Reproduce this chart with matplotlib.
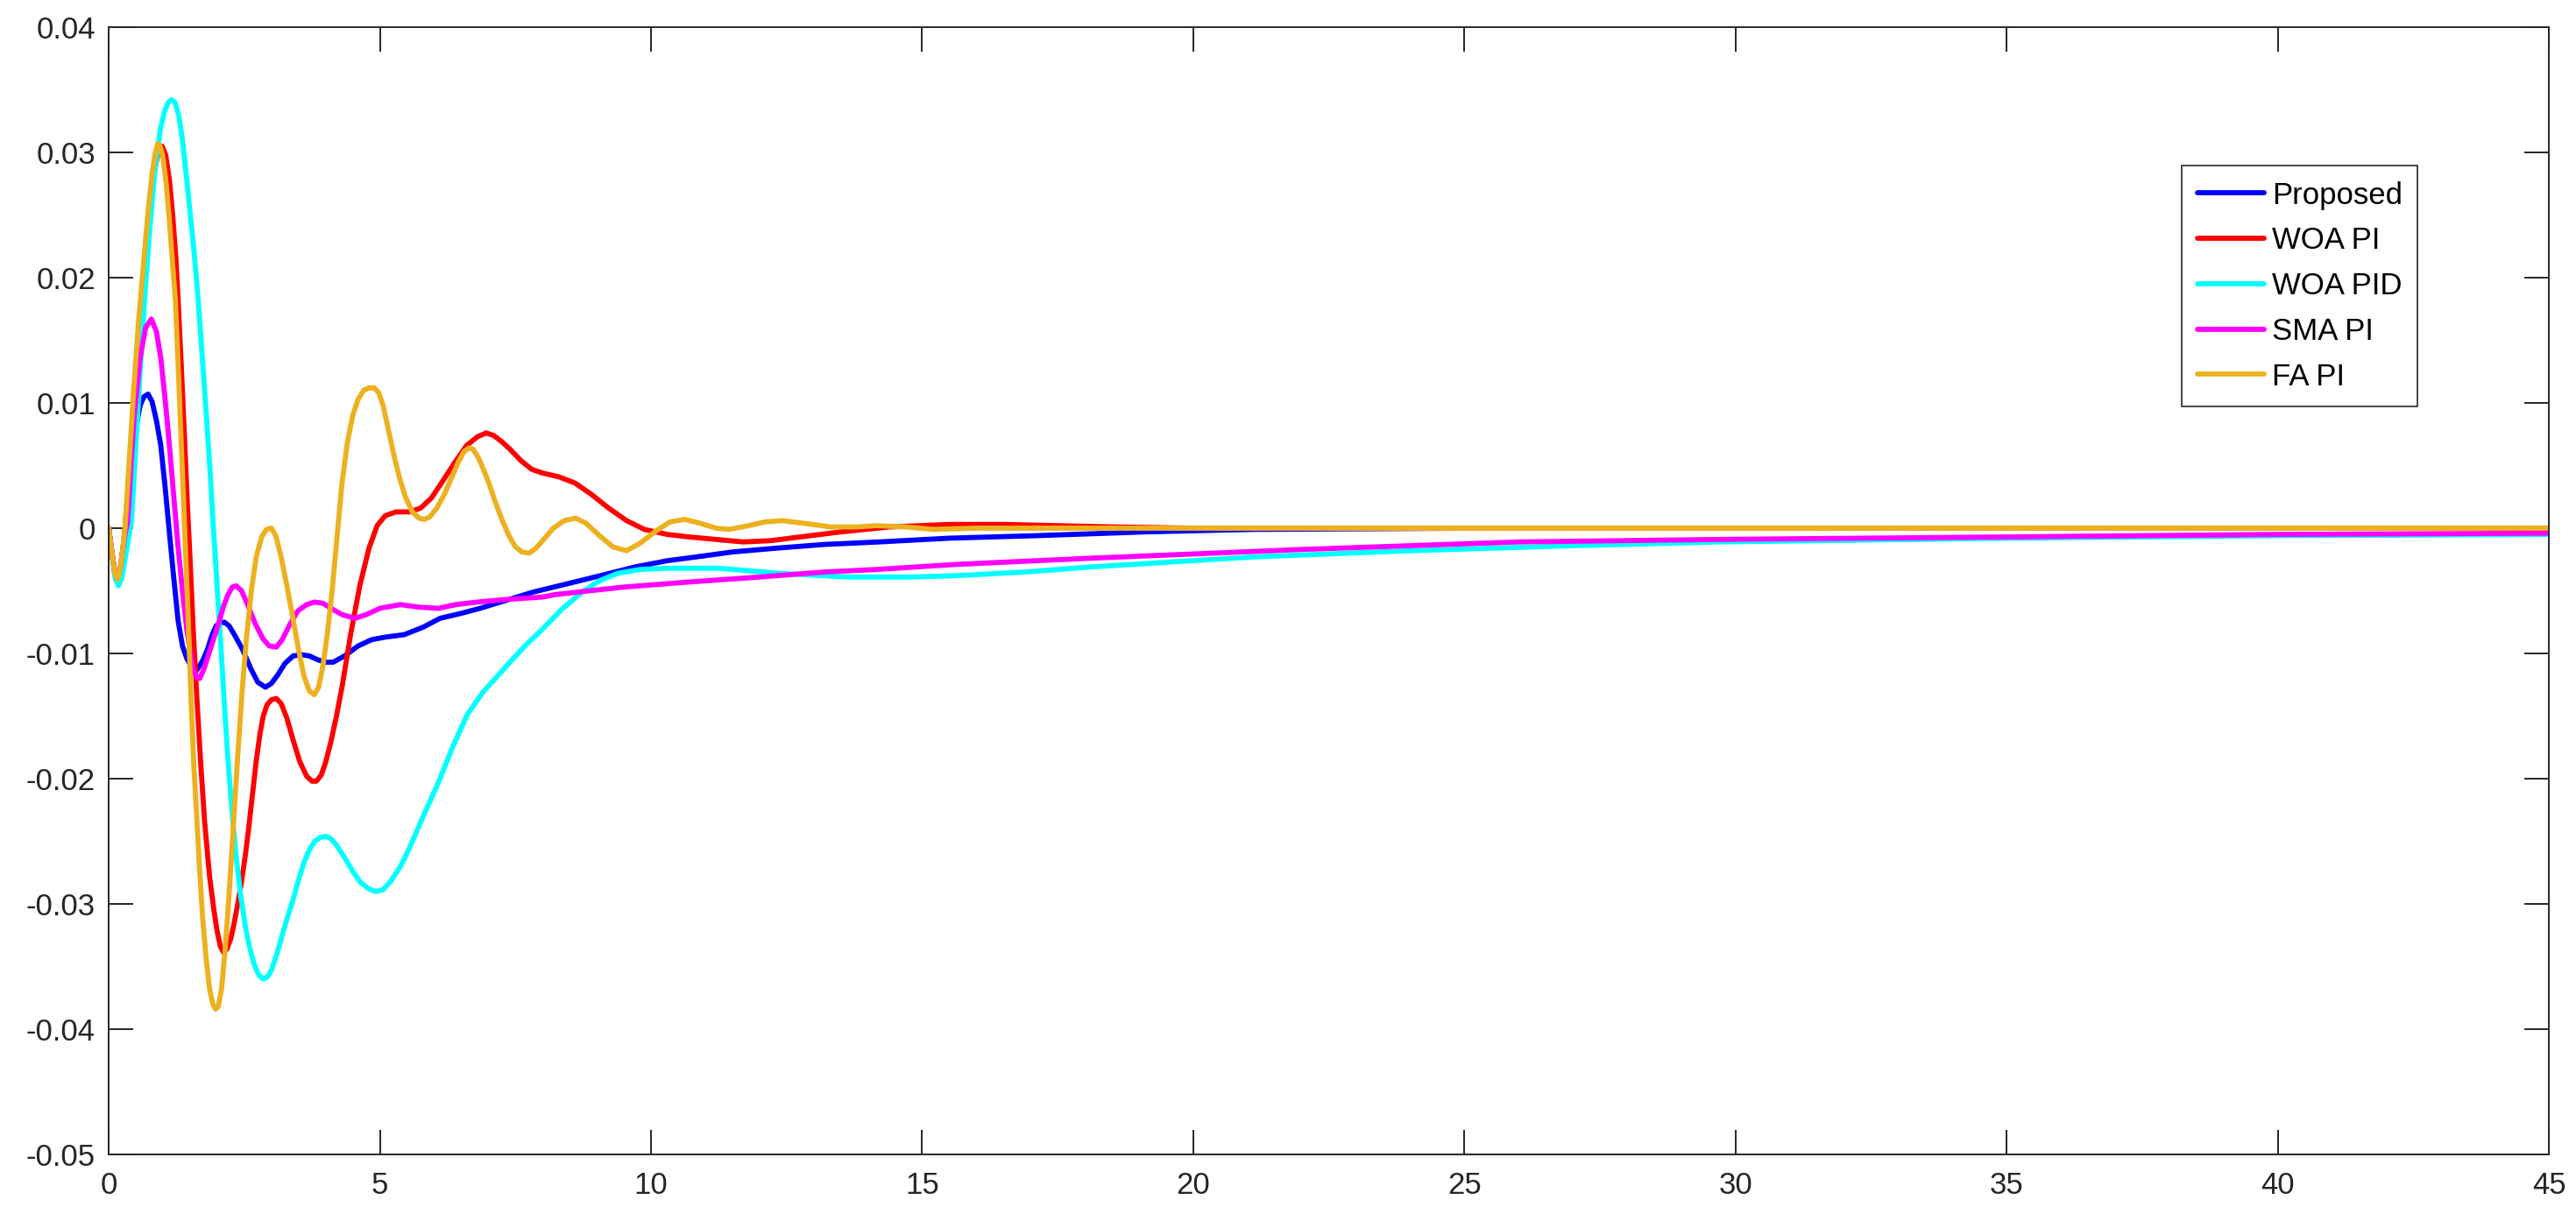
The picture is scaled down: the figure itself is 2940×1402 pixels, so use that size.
import numpy as np
import matplotlib
matplotlib.use('Agg')
import matplotlib.pyplot as plt

# values
t_proposed = [0, 0.06, 0.11, 0.16, 0.21, 0.26, 0.3, 0.35, 0.42, 0.5, 0.58, 0.65, 0.727, 0.8, 0.88, 0.96, 1.04,
              1.12, 1.2, 1.28, 1.36, 1.44, 1.53, 1.63, 1.73, 1.82, 1.9, 1.98, 2.05, 2.13, 2.22, 2.33, 2.47,
              2.63, 2.75, 2.89, 3.0, 3.12, 3.25, 3.4, 3.55, 3.7, 3.85, 4.0, 4.14, 4.35, 4.6, 4.85, 5.1, 5.45,
              5.8, 6.11, 6.5, 6.85, 7.3, 7.83, 8.4, 9.06, 9.7, 10.3, 11.0, 11.5, 12.3, 13.2, 14.2, 15.5, 17.1,
              19.1, 21.1, 25, 30, 35, 40, 45]
proposed = [0, -0.0020, -0.0035, -0.0041, -0.0034, -0.0018, -0.0005, 0.0005, 0.0045, 0.0080, 0.0098, 0.0105,
            0.0107, 0.0101, 0.0086, 0.0066, 0.0033, -0.0004, -0.0040, -0.0074, -0.0094, -0.0104, -0.0111,
            -0.0113, -0.0106, -0.0097, -0.0086, -0.0078, -0.0076, -0.0075, -0.0078, -0.0086, -0.0097, -0.0113,
            -0.0123, -0.0127, -0.0124, -0.0117, -0.0108, -0.0102, -0.0101, -0.0102, -0.0105, -0.0107, -0.0107,
            -0.0102, -0.0094, -0.0089, -0.0087, -0.0085, -0.0079, -0.0072, -0.0068, -0.0064, -0.0058, -0.0051,
            -0.0045, -0.0038, -0.0031, -0.0026, -0.0022, -0.0019, -0.0016, -0.0013, -0.0011, -0.0008, -0.0006,
            -0.0003, -0.0001, 0.0, 0.0, 0.0, 0.0, 0.0]

t_woa_pi = [0, 0.06, 0.11, 0.16, 0.21, 0.26, 0.3, 0.4, 0.48, 0.57, 0.67, 0.76, 0.85, 0.92, 0.985, 1.05, 1.12,
            1.18, 1.24, 1.28, 1.34, 1.4, 1.45, 1.5, 1.56, 1.63, 1.7, 1.77, 1.86, 1.94, 2.0, 2.06, 2.12, 2.18,
            2.25, 2.31, 2.38, 2.45, 2.52, 2.58, 2.65, 2.72, 2.79, 2.85, 2.92, 3.0, 3.09, 3.18, 3.28, 3.4, 3.52,
            3.65, 3.75, 3.83, 3.92, 4.0, 4.1, 4.2, 4.31, 4.46, 4.63, 4.8, 4.95, 5.1, 5.3, 5.55, 5.75, 5.95,
            6.15, 6.36, 6.6, 6.8, 6.96, 7.1, 7.25, 7.4, 7.6, 7.8, 8.0, 8.3, 8.6, 8.9, 9.22, 9.55, 9.88, 10.3,
            10.7, 11.2, 11.7, 12.2, 12.75, 13.5, 14.4, 15.5, 16.5, 17.5, 18.5, 20, 25, 30, 35, 40, 45]
woa_pi = [0, -0.0020, -0.0036, -0.0042, -0.0035, -0.0018, 0.0, 0.0055, 0.0105, 0.0160, 0.0210, 0.0255, 0.0287,
          0.0301, 0.0305, 0.0298, 0.0278, 0.0250, 0.0215, 0.0182, 0.0128, 0.0070, 0.0020, -0.0025, -0.0082,
          -0.0139, -0.0190, -0.0235, -0.0278, -0.0305, -0.0322, -0.0334, -0.0339, -0.0336, -0.0328, -0.0316,
          -0.0300, -0.0282, -0.0261, -0.0240, -0.0213, -0.0186, -0.0164, -0.0150, -0.0141, -0.0137, -0.0136,
          -0.0140, -0.0151, -0.0169, -0.0186, -0.0198, -0.0202, -0.0202, -0.0197, -0.0187, -0.0170, -0.0150,
          -0.0125, -0.0085, -0.0046, -0.0016, 0.0002, 0.0010, 0.0013, 0.0013, 0.0016, 0.0024, 0.0037, 0.0051,
          0.0066, 0.0073, 0.0076, 0.0074, 0.0069, 0.0063, 0.0054, 0.0047, 0.0044, 0.0041, 0.0036, 0.0027,
          0.0016, 0.0006, -0.0001, -0.0005, -0.0007, -0.0009, -0.0011, -0.0010, -0.0007, -0.0003, 0.0001,
          0.0003, 0.0003, 0.0002, 0.0001, 0.0, 0.0, 0.0, 0.0, 0.0, 0.0]

t_woa_pid = [0, 0.06, 0.12, 0.18, 0.24, 0.3, 0.36, 0.42, 0.5, 0.58, 0.66, 0.75, 0.85, 0.95, 1.03, 1.1, 1.16,
             1.22, 1.29, 1.36, 1.44, 1.5, 1.58, 1.65, 1.72, 1.8, 1.87, 1.93, 2.0, 2.07, 2.13, 2.2, 2.27, 2.35,
             2.43, 2.52, 2.6, 2.68, 2.77, 2.85, 2.93, 3.0, 3.1, 3.2, 3.3, 3.39, 3.5, 3.6, 3.71, 3.8, 3.9, 4.0,
             4.1, 4.2, 4.35, 4.5, 4.65, 4.8, 4.92, 5.05, 5.2, 5.38, 5.54, 5.8, 6.08, 6.35, 6.61, 6.9, 7.15,
             7.42, 7.7, 7.99, 8.35, 8.73, 9.05, 9.39, 9.8, 10.3, 11.25, 12.35, 13.6, 14.8, 15.6, 16.9, 18.1,
             21.1, 24, 27, 29.7, 35, 40, 45]
woa_pid = [0, -0.0022, -0.0040, -0.0046, -0.0040, -0.0025, -0.0010, 0.0006, 0.0065, 0.0125, 0.0182, 0.0235,
           0.0285, 0.0318, 0.0333, 0.0340, 0.0342, 0.0340, 0.0330, 0.0310, 0.0278, 0.0252, 0.0218, 0.0182,
           0.0140, 0.0090, 0.0045, 0.0, -0.0047, -0.0095, -0.0139, -0.0185, -0.0225, -0.0262, -0.0292,
           -0.0318, -0.0335, -0.0348, -0.0357, -0.0360, -0.0358, -0.0353, -0.0340, -0.0325, -0.0310, -0.0298,
           -0.0281, -0.0267, -0.0256, -0.0250, -0.0247, -0.0246, -0.0248, -0.0253, -0.0263, -0.0274, -0.0283,
           -0.0288, -0.0290, -0.0289, -0.0282, -0.0270, -0.0256, -0.0230, -0.0203, -0.0174, -0.0149, -0.0131,
           -0.0119, -0.0106, -0.0093, -0.0081, -0.0065, -0.0051, -0.0042, -0.0036, -0.0033, -0.0032, -0.0032,
           -0.0036, -0.0039, -0.0039, -0.0038, -0.0035, -0.0031, -0.0023, -0.0018, -0.0014, -0.0011, -0.0008,
           -0.0006, -0.0005]

t_sma_pi = [0, 0.06, 0.11, 0.16, 0.21, 0.26, 0.3, 0.35, 0.41, 0.47, 0.58, 0.68, 0.786, 0.88, 0.96, 1.04, 1.12,
            1.2, 1.28, 1.36, 1.44, 1.55, 1.62, 1.68, 1.76, 1.87, 1.96, 2.04, 2.12, 2.2, 2.28, 2.35, 2.45, 2.57,
            2.7, 2.84, 2.96, 3.09, 3.2, 3.35, 3.49, 3.65, 3.8, 3.95, 4.1, 4.3, 4.54, 4.75, 5.0, 5.38, 5.7, 6.08,
            6.4, 6.8, 7.3, 8.0, 8.24, 9.5, 10.7, 12.0, 13.2, 14.15, 15.6, 18.1, 22.0, 26, 29.7, 35, 40, 45]
sma_pi = [0, -0.0020, -0.0034, -0.0040, -0.0033, -0.0017, -0.0005, 0.0005, 0.0050, 0.0089, 0.0136, 0.0160,
          0.0167, 0.0157, 0.0136, 0.0103, 0.0066, 0.0025, -0.0015, -0.0050, -0.0081, -0.0111, -0.0119, -0.0120,
          -0.0112, -0.0097, -0.0085, -0.0074, -0.0062, -0.0053, -0.0047, -0.0046, -0.0050, -0.0062, -0.0076,
          -0.0088, -0.0094, -0.0095, -0.0089, -0.0076, -0.0066, -0.0061, -0.0059, -0.0060, -0.0064, -0.0069,
          -0.0072, -0.0069, -0.0064, -0.0061, -0.0063, -0.0064, -0.0061, -0.0059, -0.0057, -0.0055, -0.0053,
          -0.0047, -0.0043, -0.0039, -0.0035, -0.0033, -0.0029, -0.0024, -0.0017, -0.0011, -0.0009, -0.0007,
          -0.0005, -0.0004]

t_fa_pi = [0, 0.06, 0.11, 0.16, 0.21, 0.26, 0.3, 0.38, 0.46, 0.55, 0.65, 0.73, 0.8, 0.86, 0.905, 0.95, 1.0,
           1.06, 1.12, 1.18, 1.23, 1.29, 1.34, 1.4, 1.46, 1.52, 1.57, 1.61, 1.67, 1.73, 1.8, 1.86, 1.92, 1.97,
           2.02, 2.08, 2.14, 2.2, 2.26, 2.32, 2.39, 2.46, 2.54, 2.63, 2.72, 2.82, 2.91, 3.0, 3.08, 3.18, 3.29,
           3.39, 3.5, 3.6, 3.7, 3.79, 3.87, 3.95, 4.03, 4.12, 4.2, 4.3, 4.4, 4.5, 4.6, 4.7, 4.8, 4.9, 4.98,
           5.06, 5.15, 5.25, 5.35, 5.47, 5.6, 5.72, 5.82, 5.92, 6.05, 6.19, 6.32, 6.45, 6.55, 6.64, 6.72, 6.82,
           6.92, 7.01, 7.12, 7.25, 7.38, 7.5, 7.62, 7.75, 7.88, 8.0, 8.2, 8.4, 8.61, 8.8, 9.05, 9.3, 9.55, 9.8,
           10.1, 10.35, 10.62, 10.9, 11.2, 11.44, 11.8, 12.1, 12.42, 12.8, 13.32, 13.8, 14.14, 14.7, 15.2, 16,
           20, 25, 30, 35, 40, 45]
fa_pi = [0, -0.0020, -0.0035, -0.0041, -0.0033, -0.0016, 0.0, 0.0055, 0.0110, 0.0165, 0.0215, 0.0255, 0.0283,
         0.0300, 0.0307, 0.0305, 0.0296, 0.0275, 0.0245, 0.0210, 0.0182, 0.0120, 0.0065, 0.0, -0.0065, -0.0139,
         -0.0190, -0.0220, -0.0268, -0.0310, -0.0345, -0.0368, -0.0380, -0.0384, -0.0382, -0.0368, -0.0340,
         -0.0305, -0.0265, -0.0222, -0.0175, -0.0130, -0.0088, -0.0050, -0.0023, -0.0007, -0.0001, 0.0, -0.0006,
         -0.0023, -0.0047, -0.0070, -0.0097, -0.0118, -0.0130, -0.0133, -0.0127, -0.0110, -0.0085, -0.0050,
         -0.0012, 0.0035, 0.0068, 0.0090, 0.0103, 0.0110, 0.0112, 0.0112, 0.0108, 0.0098, 0.0080, 0.0060, 0.0042,
         0.0025, 0.0013, 0.0008, 0.0007, 0.0009, 0.0016, 0.0027, 0.0040, 0.0053, 0.0061, 0.0064, 0.0063, 0.0056,
         0.0046, 0.0036, 0.0022, 0.0007, -0.0006, -0.0015, -0.0019, -0.0020, -0.0016, -0.0010, 0.0, 0.0006,
         0.0008, 0.0004, -0.0006, -0.0015, -0.0018, -0.0012, -0.0002, 0.0005, 0.0007, 0.0004, 0.0, -0.0001,
         0.0002, 0.0005, 0.0006, 0.0004, 0.0001, 0.0001, 0.0002, 0.0001, -0.0001, 0.0, 0.0, 0.0, 0.0, 0.0, 0.0,
         0.0]

labels = ['Proposed', 'WOA PI', 'WOA PID', 'SMA PI', 'FA PI']
colors = ['#0000ff', '#ff0000', '#00ffff', '#ff00ff', '#edb120']
x_ticks = [0, 5, 10, 15, 20, 25, 30, 35, 40, 45]
y_ticks = [-0.05, -0.04, -0.03, -0.02, -0.01, 0, 0.01, 0.02, 0.03, 0.04]
y_tick_labels = ['-0.05', '-0.04', '-0.03', '-0.02', '-0.01', '0', '0.01', '0.02', '0.03', '0.04']

plt.rcParams['font.family'] = ['Liberation Sans', 'DejaVu Sans']
axis_color = '#262626'

fig = plt.figure(figsize=(14.7, 7.01), dpi=200)
ax = fig.add_axes([0.0422, 0.0599, 0.9473, 0.918])

series = [(t_proposed, proposed), (t_woa_pi, woa_pi), (t_woa_pid, woa_pid), (t_sma_pi, sma_pi), (t_fa_pi, fa_pi)]
for (t, y), lab, col in zip(series, labels, colors):
    ax.plot(t, y, color=col, lw=2.1, label=lab, solid_joinstyle='round', solid_capstyle='round')

ax.set_xlim(0, 45)
ax.set_ylim(-0.05, 0.04)
ax.set_xticks(x_ticks)
ax.set_xticklabels([str(v) for v in x_ticks])
ax.set_yticks(y_ticks)
ax.set_yticklabels(y_tick_labels)
ax.tick_params(direction='in', length=10, width=0.7, top=True, right=True, colors=axis_color,
               labelsize=12.5, labelcolor=axis_color)
ax.tick_params(axis='y', pad=5.5)
ax.tick_params(axis='x', pad=7)
for s in ax.spines.values():
    s.set_color(axis_color)
    s.set_linewidth(0.7)

leg = ax.legend(loc='upper left', bbox_to_anchor=(0.8496, 0.877), borderaxespad=0, fontsize=12.5,
                fancybox=False, framealpha=1, edgecolor=axis_color, handlelength=2.2, handletextpad=0.25,
                labelspacing=0.54, borderpad=0.5)
leg.get_frame().set_linewidth(0.6)

fig.savefig('out.png', dpi=200)
